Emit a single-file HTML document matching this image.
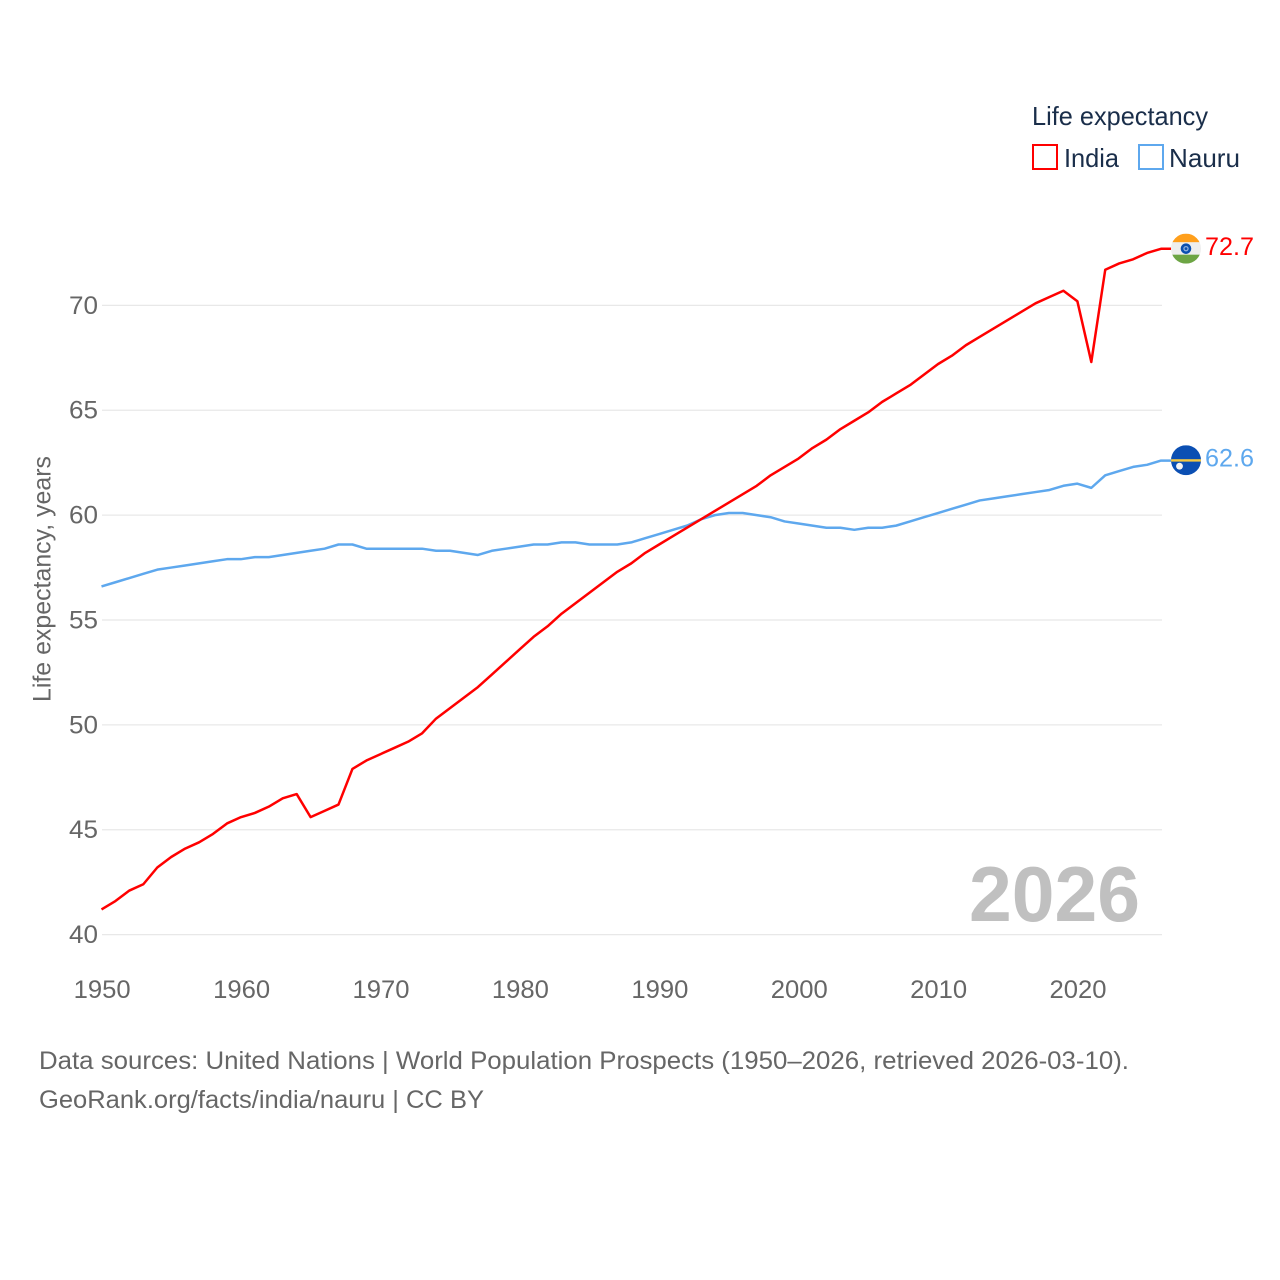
<!DOCTYPE html>
<html lang="en">
<head>
<meta charset="utf-8">
<title>Life expectancy: India and Nauru</title>
<style>
  html, body { margin: 0; padding: 0; background: #fff; }
  svg { display: block; font-family: "Liberation Sans", "DejaVu Sans", sans-serif; }
</style>
</head>
<body>
<svg id="chart" xmlns="http://www.w3.org/2000/svg" width="1280" height="1280" viewBox="0 0 1280 1280">
  <defs>
    <clipPath id="india-clip"><circle cx="0" cy="0" r="15"></circle></clipPath>
    <clipPath id="nauru-clip"><circle cx="0" cy="0" r="15"></circle></clipPath>
  </defs>
  <rect x="0" y="0" width="1280" height="1280" fill="#fff"></rect>
  <g id="grid"></g>
  <g id="y-ticks"></g>
  <g id="x-ticks"></g>
  <text transform="translate(50.5 579) rotate(-90)" text-anchor="middle" font-size="25" fill="#666" textLength="246" lengthAdjust="spacingAndGlyphs">Life expectancy, years</text>

  <text x="969" y="921" font-size="78" font-weight="700" fill="#c0c0c0" textLength="171" lengthAdjust="spacingAndGlyphs">2026</text>

  <g id="series"></g>

  <g id="india-flag" clip-path="url(#india-clip)">
    <rect x="-15" y="-15" width="30" height="30" fill="#eeeeee"></rect>
    <rect x="-15" y="-15" width="30" height="8.5" fill="#ff9f1c"></rect>
    <rect x="-15" y="6" width="30" height="9" fill="#6da544"></rect>
    <circle cx="0" cy="0" r="4" fill="#8fb0de" stroke="#0a4fb0" stroke-width="2.6"></circle>
    <circle cx="0" cy="0" r="1.4" fill="#0a4fb0"></circle>
  </g>
  <g id="nauru-flag" clip-path="url(#nauru-clip)">
    <rect x="-15" y="-15" width="30" height="30" fill="#0b4fb3"></rect>
    <rect x="-15" y="-1" width="30" height="2.4" fill="#f5c842"></rect>
    <circle cx="-6.5" cy="6" r="3.4" fill="#f4f4f4"></circle>
  </g>
  <text id="india-value" x="1205" font-size="25" fill="#ff0000" textLength="49" lengthAdjust="spacingAndGlyphs"></text>
  <text id="nauru-value" x="1205" font-size="25" fill="#5ea8ee" textLength="49" lengthAdjust="spacingAndGlyphs"></text>

  <g>
    <text x="1032" y="125" font-size="26" fill="#1a2e4a" textLength="176" lengthAdjust="spacingAndGlyphs">Life expectancy</text>
    <g>
      <rect x="1033" y="145" width="24" height="24" fill="#fff" stroke="#ff0000" stroke-width="2"></rect>
      <text x="1064" y="167" font-size="26" fill="#1a2e4a" textLength="55" lengthAdjust="spacingAndGlyphs">India</text>
    </g>
    <g>
      <rect x="1139" y="145" width="24" height="24" fill="#fff" stroke="#5ea8ee" stroke-width="2"></rect>
      <text x="1169" y="167" font-size="26" fill="#1a2e4a" textLength="71" lengthAdjust="spacingAndGlyphs">Nauru</text>
    </g>
  </g>

  <text x="39" y="1069" font-size="25" fill="#666" textLength="1090" lengthAdjust="spacingAndGlyphs">Data sources: United Nations | World Population Prospects (1950–2026, retrieved 2026-03-10).</text>
  <text x="39" y="1108" font-size="25" fill="#666" textLength="445" lengthAdjust="spacingAndGlyphs">GeoRank.org/facts/india/nauru | CC BY</text>
</svg>
<script>
var startYear = 1950;
var xTickLabels = [1950, 1960, 1970, 1980, 1990, 2000, 2010, 2020];
var yTickLabels = [40, 45, 50, 55, 60, 65, 70];
var indiaValues = [41.2, 41.6, 42.1, 42.4, 43.2, 43.7, 44.1, 44.4, 44.8, 45.3,
  45.6, 45.8, 46.1, 46.5, 46.7, 45.6, 45.9, 46.2, 47.9, 48.3,
  48.6, 48.9, 49.2, 49.6, 50.3, 50.8, 51.3, 51.8, 52.4, 53.0,
  53.6, 54.2, 54.7, 55.3, 55.8, 56.3, 56.8, 57.3, 57.7, 58.2,
  58.6, 59.0, 59.4, 59.8, 60.2, 60.6, 61.0, 61.4, 61.9, 62.3,
  62.7, 63.2, 63.6, 64.1, 64.5, 64.9, 65.4, 65.8, 66.2, 66.7,
  67.2, 67.6, 68.1, 68.5, 68.9, 69.3, 69.7, 70.1, 70.4, 70.7,
  70.2, 67.3, 71.7, 72.0, 72.2, 72.5, 72.7];
var nauruValues = [56.6, 56.8, 57.0, 57.2, 57.4, 57.5, 57.6, 57.7, 57.8, 57.9,
  57.9, 58.0, 58.0, 58.1, 58.2, 58.3, 58.4, 58.6, 58.6, 58.4,
  58.4, 58.4, 58.4, 58.4, 58.3, 58.3, 58.2, 58.1, 58.3, 58.4,
  58.5, 58.6, 58.6, 58.7, 58.7, 58.6, 58.6, 58.6, 58.7, 58.9,
  59.1, 59.3, 59.5, 59.8, 60.0, 60.1, 60.1, 60.0, 59.9, 59.7,
  59.6, 59.5, 59.4, 59.4, 59.3, 59.4, 59.4, 59.5, 59.7, 59.9,
  60.1, 60.3, 60.5, 60.7, 60.8, 60.9, 61.0, 61.1, 61.2, 61.4,
  61.5, 61.3, 61.9, 62.1, 62.3, 62.4, 62.6];

var NS = 'http://www.w3.org/2000/svg';
function xScale(year) { return 101.5 + (year - 1950) * (1161 - 101.5) / 76; }
function yScale(value) { return 934.6 - (value - 40) * (934.6 - 305.4) / 30; }
function make(tag, attrs, parent) {
  var el = document.createElementNS(NS, tag);
  for (var k in attrs) { el.setAttribute(k, attrs[k]); }
  parent.appendChild(el);
  return el;
}

var gridGroup = document.getElementById('grid');
var yGroup = document.getElementById('y-ticks');
yTickLabels.forEach(function (v) {
  var line = make('line', { x1: 102, x2: 1162, y1: yScale(v), y2: yScale(v), stroke: '#e8e8e8', 'stroke-width': 1.2 }, gridGroup);
  
  
  var label = make('text', { x: 98, y: yScale(v) + 8.4, 'text-anchor': 'end', 'font-size': 25, fill: '#666', textLength: 29, lengthAdjust: 'spacingAndGlyphs' }, yGroup);
  
  
  label.textContent = v;
});

var xGroup = document.getElementById('x-ticks');
xTickLabels.forEach(function (year) {
  var label = make('text', { x: xScale(year) - 27.8, y: 998, 'font-size': 25, fill: '#666', textLength: 57, lengthAdjust: 'spacingAndGlyphs' }, xGroup);
  
  
  label.textContent = year;
});

function pointsFor(values) {
  var pts = values.map(function (v, i) {
    return xScale(startYear + i).toFixed(2) + ',' + yScale(v).toFixed(2);
  });
  var last = values[values.length - 1];
  pts.push((xScale(startYear + values.length - 1) + 10).toFixed(2) + ',' + yScale(last).toFixed(2));
  return pts.join(' ');
}
var seriesGroup = document.getElementById('series');
var nauruLine = make('polyline', { points: pointsFor(nauruValues), fill: 'none', stroke: '#5ea8ee', 'stroke-width': 2.5, 'stroke-linejoin': 'round' }, seriesGroup);


var indiaLine = make('polyline', { points: pointsFor(indiaValues), fill: 'none', stroke: '#ff0000', 'stroke-width': 2.5, 'stroke-linejoin': 'round' }, seriesGroup);



var indiaLast = indiaValues[indiaValues.length - 1];
var nauruLast = nauruValues[nauruValues.length - 1];
document.getElementById('india-flag').setAttribute('transform', 'translate(1186 ' + (yScale(indiaLast) - 0.1).toFixed(2) + ')');
document.getElementById('nauru-flag').setAttribute('transform', 'translate(1186 ' + (yScale(nauruLast) - 0.4).toFixed(2) + ')');
var indiaText = document.getElementById('india-value');
indiaText.setAttribute('y', (yScale(indiaLast) + 6).toFixed(2));
indiaText.textContent = indiaLast.toFixed(1);
var nauruText = document.getElementById('nauru-value');
nauruText.setAttribute('y', (yScale(nauruLast) + 6).toFixed(2));
nauruText.textContent = nauruLast.toFixed(1);
</script>
</body>
</html>
